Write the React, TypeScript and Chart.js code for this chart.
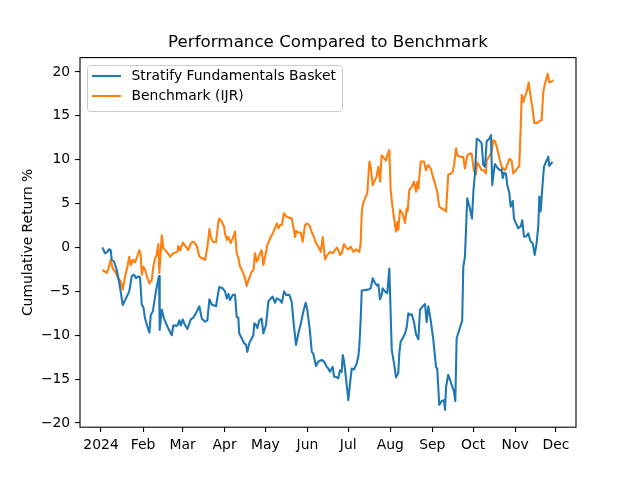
import React, { useEffect, useRef } from "react";
import { Chart, registerables } from "chart.js";

Chart.register(...registerables);

const TITLE = "Performance Compared to Benchmark";
const Y_LABEL = "Cumulative Return %";
const seriesNames = ["Stratify Fundamentals Basket", "Benchmark (IJR)"];
const seriesColors = ["#1f77b4", "#ff7f0e"];

// day-of-year (0 = 1 Jan 2024) for month ticks
const monthTickDays = [0, 31, 60, 91, 121, 152, 182, 213, 244, 274, 305, 335];
const monthTickLabels = ["2024", "Feb", "Mar", "Apr", "May", "Jun", "Jul", "Aug", "Sep", "Oct", "Nov", "Dec"];
const yTickValues = [-20, -15, -10, -5, 0, 5, 10, 15, 20];

const basketDays = [
  1, 2.9, 4.6, 6.1, 7.1, 7.9, 9.6, 11.6, 13.5, 16.0,
  17.7, 20.8, 22.6, 24.3, 25.8, 27.5, 28.7, 30.0, 31.2, 32.4,
  34.1, 35.6, 36.6, 38.1, 39.8, 41.0, 42.7, 43.2, 44.7, 46.4,
  48.8, 52.1, 53.2, 56.2, 57.7, 58.7, 60.2, 61.1, 63.6, 66.1,
  68.0, 70.5, 72.4, 74.2, 76.6, 78.3, 79.8, 81.5, 84.7, 85.6,
  87.1, 89.6, 91.3, 92.6, 93.8, 95.0, 97.0, 98.7, 99.9, 101.1,
  101.8, 103.6, 105.3, 106.8, 107.7, 109.2, 111.0, 112.2, 112.9, 114.1,
  115.1, 116.6, 118.3, 119.5, 121.5, 123.2, 125.0, 126.4, 128.1, 129.4,
  131.8, 133.1, 134.8, 136.2, 138.7, 140.4, 142.1, 143.6, 145.3, 147.1,
  149.0, 150.7, 151.9, 153.9, 155.2, 156.3, 158.3, 160.0, 162.5, 164.2,
  166.2, 167.4, 168.6, 170.6, 171.6, 173.6, 174.7, 176.0, 177.2, 178.0,
  178.9, 180.4, 182.1, 183.4, 184.6, 186.3, 188.3, 189.5, 190.2, 191.2,
  192.0, 194.4, 196.8, 198.6, 200.1, 201.3, 203.0, 204.2, 205.5, 206.7,
  207.4, 209.1, 210.8, 212.3, 213.3, 214.1, 215.8, 217.2, 218.9, 219.7,
  220.7, 222.2, 223.9, 225.1, 226.3, 227.5, 228.8, 230.5, 232.0, 233.7,
  234.9, 236.9, 238.6, 239.8, 241.0, 242.8, 244.7, 246.7, 247.6, 249.1,
  250.9, 252.6, 253.3, 254.1, 255.7, 257.5, 259.0, 259.9, 260.9, 261.9,
  263.8, 266.0, 266.8, 268.0, 269.7, 271.7, 273.2, 274.2, 275.4, 276.7,
  278.6, 280.3, 281.5, 282.8, 284.0, 285.9, 287.2, 288.1, 289.4, 290.1,
  291.8, 293.8, 295.1, 295.8, 296.8, 298.2, 299.2, 300.7, 301.7, 303.2,
  304.1, 305.6, 307.3, 309.1, 310.2, 311.5, 313.0, 314.7, 316.4, 317.9,
  319.4, 320.8, 322.0, 322.8, 323.8, 324.7, 326.2, 327.7, 329.4, 330.1,
  332.5,
];
const basketValues = [
  0.0, -0.66, -0.5, -0.2, -0.3, -1.4, -1.6, -2.6, -4.1, -6.55,
  -6.0, -5.0, -3.3, -3.1, -3.5, -3.3, -3.4, -6.55, -6.8, -8.1,
  -9.0, -9.7, -7.7, -7.3, -5.6, -4.5, -3.25, -9.4, -7.1, -8.1,
  -9.0, -10.0, -8.9, -8.9, -8.3, -8.9, -8.2, -8.6, -9.3, -8.2,
  -8.0, -7.3, -6.7, -8.1, -8.45, -8.3, -5.9, -6.5, -6.7, -5.8,
  -4.5, -4.65, -5.0, -5.8, -5.3, -6.0, -5.4, -5.4, -7.9, -8.0,
  -9.8, -10.35, -10.9, -11.1, -11.9, -10.9, -10.35, -10.0, -8.65, -8.8,
  -9.2, -8.3, -8.1, -9.8, -8.8, -6.2, -5.8, -5.6, -6.3, -5.8,
  -6.0, -6.3, -5.0, -5.4, -5.4, -6.2, -9.0, -11.1, -9.8, -8.7,
  -7.3, -6.3, -7.1, -9.6, -11.9, -12.1, -13.5, -13.0, -12.8, -13.0,
  -13.6, -13.8, -14.15, -13.6, -14.7, -14.8, -14.9, -14.0, -14.2, -12.25,
  -12.9, -14.9, -17.4, -15.5, -13.8, -13.9, -13.2, -12.4, -11.3, -8.3,
  -4.9, -4.85, -4.8, -4.65, -3.5, -3.9, -4.3, -4.2, -5.9, -5.4,
  -4.65, -5.0, -5.2, -2.4, -7.5, -11.7, -13.2, -14.8, -14.3, -12.0,
  -10.7, -10.35, -9.8, -9.1, -7.5, -7.7, -7.6, -8.5, -9.9, -10.45,
  -7.1, -6.7, -6.45, -8.5, -6.7, -8.3, -10.5, -13.6, -13.8, -17.95,
  -17.5, -17.4, -18.5, -15.9, -14.5, -15.3, -16.0, -16.4, -17.5, -10.35,
  -9.4, -8.3, -2.2, -1.05, 5.6, 4.45, 3.3, 6.35, 8.45, 12.4,
  12.2, 11.9, 9.4, 9.2, 12.1, 12.4, 12.8, 7.1, 8.8, 9.5,
  9.1, 8.8, 8.9, 7.9, 8.5, 8.4, 7.1, 6.2, 4.65, 5.3,
  3.3, 2.75, 2.2, 2.4, 3.1, 1.25, 1.25, 1.6, 0.66, 0.5,
  -0.85, 0.5, 2.4, 5.8, 4.1, 6.2, 9.2, 9.75, 10.35, 9.3,
  9.75,
];

const benchDays = [
  1, 4.2, 5.4, 7.1, 8.6, 10.3, 12.7, 14.5, 16.0, 17.7,
  19.4, 20.8, 21.9, 23.3, 25.0, 26.7, 28.2, 29.2, 30.0, 31.2,
  32.4, 34.1, 35.6, 37.3, 38.5, 39.8, 41.0, 42.2, 42.9, 44.0,
  44.7, 45.9, 48.4, 50.8, 53.2, 56.2, 56.9, 58.2, 60.2, 61.9,
  64.3, 66.1, 68.0, 70.5, 72.4, 74.2, 76.6, 78.3, 79.8, 80.8,
  82.3, 84.7, 86.4, 87.1, 88.9, 90.6, 91.3, 92.6, 93.8, 95.5,
  97.4, 98.7, 99.9, 101.1, 102.4, 104.3, 106.0, 107.3, 108.5, 109.7,
  111.0, 112.2, 113.4, 114.7, 115.8, 117.1, 118.3, 119.5, 120.8, 122.5,
  124.5, 126.4, 128.1, 129.4, 130.6, 131.8, 133.1, 134.8, 136.7, 140.4,
  141.6, 142.9, 143.6, 145.3, 147.1, 148.5, 150.2, 151.9, 153.9, 155.2,
  156.8, 158.3, 160.0, 161.8, 163.3, 164.9, 166.6, 168.6, 170.6, 172.3,
  173.6, 174.7, 176.0, 177.2, 178.9, 180.4, 182.1, 183.9, 185.8, 187.8,
  190.2, 191.2, 192.0, 192.7, 194.4, 196.1, 197.6, 198.6, 200.1, 201.8,
  203.0, 204.2, 205.5, 206.7, 207.9, 209.9, 210.8, 212.3, 213.3, 214.8,
  216.0, 217.2, 218.2, 218.9, 220.2, 222.2, 223.9, 225.1, 225.8, 227.0,
  228.8, 230.5, 232.0, 232.9, 233.7, 235.4, 237.8, 239.3, 241.0, 242.8,
  244.7, 246.7, 247.6, 249.1, 250.9, 252.6, 254.1, 255.7, 257.5, 259.0,
  259.9, 261.5, 262.4, 263.8, 265.6, 266.8, 268.0, 269.7, 271.7, 272.9,
  274.6, 276.1, 277.0, 279.0, 280.3, 281.9, 283.4, 284.0, 285.9, 287.7,
  288.9, 290.1, 291.4, 292.6, 293.8, 295.1, 296.2, 297.5, 298.7, 300.7,
  302.4, 303.6, 305.6, 307.3, 308.0, 309.1, 309.8, 311.0, 312.2, 313.5,
  315.0, 316.4, 317.9, 319.1, 321.3, 323.3, 324.5, 325.7, 327.0, 328.9,
  330.1, 331.9, 333.0,
];
const benchValues = [
  -2.56, -2.9, -2.4, -1.4, -2.4, -2.75, -3.5, -3.9, -4.8, -3.3,
  -2.2, -1.05, -2.0, -1.4, -1.7, -1.0, -0.3, -0.85, -3.1, -2.2,
  -2.5, -3.5, -4.1, -3.7, -2.2, -1.2, -0.85, 0.4, -2.9, -0.5,
  1.4, -0.1, -0.5, -1.05, -0.66, -0.5, 0.17, -0.35, 0.55, 0.2,
  -0.3, 0.5, 0.66, 0.2, -1.05, -1.2, -1.4, 0.0, 2.1, 1.2,
  0.66, 0.6, 2.95, 3.3, 2.95, 2.4, 1.6, 0.85, 1.2, 0.5,
  1.2, 1.8, -0.66, -1.2, -2.2, -2.75, -3.5, -4.4, -3.7, -3.3,
  -2.75, -2.6, -0.66, -1.6, -1.25, -0.66, -0.3, -2.0, -1.05, 0.3,
  1.05, 1.6, 2.2, 2.75, 2.2, 2.56, 2.56, 3.9, 3.5, 3.3,
  2.4, 1.2, 1.9, 1.7, 1.7, 0.66, 2.56, 2.75, 2.4, 1.7,
  1.2, 0.5, 0.1, -0.5, 1.2, -1.35, -0.85, -0.5, -0.66, -0.3,
  0.0, -0.3, -0.85, -0.66, 0.4, 0.0, -0.2, 0.1, -0.5, -0.2,
  -0.5, 0.5, 3.9, 4.85, 5.6, 6.2, 9.8, 9.2, 7.1, 7.7,
  8.1, 9.2, 7.5, 10.5, 10.3, 9.9, 10.5, 11.1, 6.55, 4.45,
  3.1, 1.8, 2.9, 2.0, 4.3, 3.8, 2.8, 4.45, 4.1, 6.55,
  6.9, 7.5, 6.35, 7.5, 6.7, 9.8, 9.8, 8.8, 9.4, 9.0,
  7.9, 6.9, 6.35, 4.65, 4.45, 4.3, 4.1, 8.3, 8.4, 8.6,
  9.3, 11.3, 10.5, 10.4, 10.3, 10.3, 9.0, 10.5, 10.7, 10.7,
  8.8, 8.3, 9.7, 9.2, 8.8, 8.8, 8.45, 9.9, 10.4, 10.9,
  12.25, 12.1, 11.5, 10.7, 9.9, 9.2, 9.0, 8.8, 9.2, 10.1,
  9.9, 8.45, 8.8, 9.2, 9.2, 13.8, 17.4, 16.6, 17.2, 17.75,
  18.8, 17.2, 15.7, 14.2, 14.2, 14.45, 14.5, 17.75, 18.7, 19.8,
  18.8, 18.9, 19.1,
];

const FONT = "'DejaVu Sans', 'Liberation Sans', sans-serif";
const TICK_PX = 13.9;

export default function App() {
  const canvasRef = useRef<HTMLCanvasElement | null>(null);

  useEffect(() => {
    document.body.style.margin = "0";
    const canvas = canvasRef.current;
    if (!canvas) return;

    const decor = {
      id: "mplDecor",
      afterDraw(chart: any) {
        const { ctx, chartArea } = chart;
        const { left, top, right, bottom } = chartArea;
        ctx.save();
        // frame
        ctx.strokeStyle = "#000";
        ctx.lineWidth = 1.1;
        ctx.strokeRect(left, top, right - left, bottom - top);
        // title
        ctx.fillStyle = "#000";
        ctx.font = `16.7px ${FONT}`;
        ctx.textAlign = "center";
        ctx.textBaseline = "middle";
        ctx.fillText(TITLE, (left + right) / 2, 43);
        // y label
        ctx.save();
        ctx.translate(28, (top + bottom) / 2);
        ctx.rotate(-Math.PI / 2);
        ctx.font = `${TICK_PX}px ${FONT}`;
        ctx.fillText(Y_LABEL, 0, 0);
        ctx.restore();
        // legend
        const lx = 87.5, ly = 65.5, lw = 255, lh = 46, r = 3;
        ctx.beginPath();
        ctx.moveTo(lx + r, ly);
        ctx.lineTo(lx + lw - r, ly);
        ctx.quadraticCurveTo(lx + lw, ly, lx + lw, ly + r);
        ctx.lineTo(lx + lw, ly + lh - r);
        ctx.quadraticCurveTo(lx + lw, ly + lh, lx + lw - r, ly + lh);
        ctx.lineTo(lx + r, ly + lh);
        ctx.quadraticCurveTo(lx, ly + lh, lx, ly + lh - r);
        ctx.lineTo(lx, ly + r);
        ctx.quadraticCurveTo(lx, ly, lx + r, ly);
        ctx.closePath();
        ctx.fillStyle = "rgba(255,255,255,0.8)";
        ctx.fill();
        ctx.strokeStyle = "#cccccc";
        ctx.lineWidth = 1;
        ctx.stroke();
        const rows = [76, 96];
        seriesNames.forEach((name, i) => {
          ctx.strokeStyle = seriesColors[i];
          ctx.lineWidth = 2.08;
          ctx.beginPath();
          ctx.moveTo(92, rows[i]);
          ctx.lineTo(121, rows[i]);
          ctx.stroke();
          ctx.fillStyle = "#000";
          ctx.font = `${TICK_PX}px ${FONT}`;
          ctx.textAlign = "left";
          ctx.textBaseline = "middle";
          ctx.fillText(name, 131.5, rows[i]);
        });
        ctx.restore();
      },
    };

    const mk = (days: number[], vals: number[]) => days.map((d, i) => ({ x: d, y: vals[i] }));

    const chart = new Chart(canvas, {
      type: "line",
      data: {
        datasets: [
          {
            label: seriesNames[0],
            data: mk(basketDays, basketValues),
            borderColor: seriesColors[0],
            backgroundColor: seriesColors[0],
            borderWidth: 2.08,
            pointRadius: 0,
            tension: 0,
            borderJoinStyle: "round",
          },
          {
            label: seriesNames[1],
            data: mk(benchDays, benchValues),
            borderColor: seriesColors[1],
            backgroundColor: seriesColors[1],
            borderWidth: 2.08,
            pointRadius: 0,
            tension: 0,
            borderJoinStyle: "round",
          },
        ],
      },
      options: {
        animation: false,
        responsive: false,
        devicePixelRatio: 1,
        layout: { padding: { left: 0, right: 64, top: 57.6, bottom: 0 } },
        plugins: { legend: { display: false }, title: { display: false }, tooltip: { enabled: false } },
        scales: {
          x: {
            type: "linear",
            min: -15.5,
            max: 349.8,
            afterBuildTicks: (scale: any) => {
              scale.ticks = monthTickDays.map((v) => ({ value: v }));
            },
            afterFit: (scale: any) => {
              scale.height = 52.8;
            },
            ticks: {
              autoSkip: false,
              maxRotation: 0,
              padding: 4.9,
              color: "#000",
              font: { family: FONT, size: TICK_PX },
              callback: (_v: any, i: number) => monthTickLabels[i],
            },
            grid: { display: true, drawOnChartArea: false, drawTicks: true, tickLength: 4.9, color: "#000", lineWidth: 1.1 },
            border: { display: false },
          },
          y: {
            type: "linear",
            min: -20.48,
            max: 21.64,
            afterBuildTicks: (scale: any) => {
              scale.ticks = yTickValues.map((v) => ({ value: v }));
            },
            afterFit: (scale: any) => {
              scale.width = 80;
            },
            ticks: {
              padding: 4.9,
              color: "#000",
              font: { family: FONT, size: TICK_PX },
              callback: (v: any) => (Number(v) < 0 ? "\u2212" + Math.abs(Number(v)) : String(v)),
            },
            grid: { display: true, drawOnChartArea: false, drawTicks: true, tickLength: 4.9, color: "#000", lineWidth: 1.1 },
            border: { display: false },
          },
        },
      },
      plugins: [decor],
    });

    return () => chart.destroy();
  }, []);

  return (
    <div style={{ width: 640, height: 480, background: "#fff" }}>
      <canvas ref={canvasRef} width={640} height={480} style={{ display: "block" }} />
    </div>
  );
}
